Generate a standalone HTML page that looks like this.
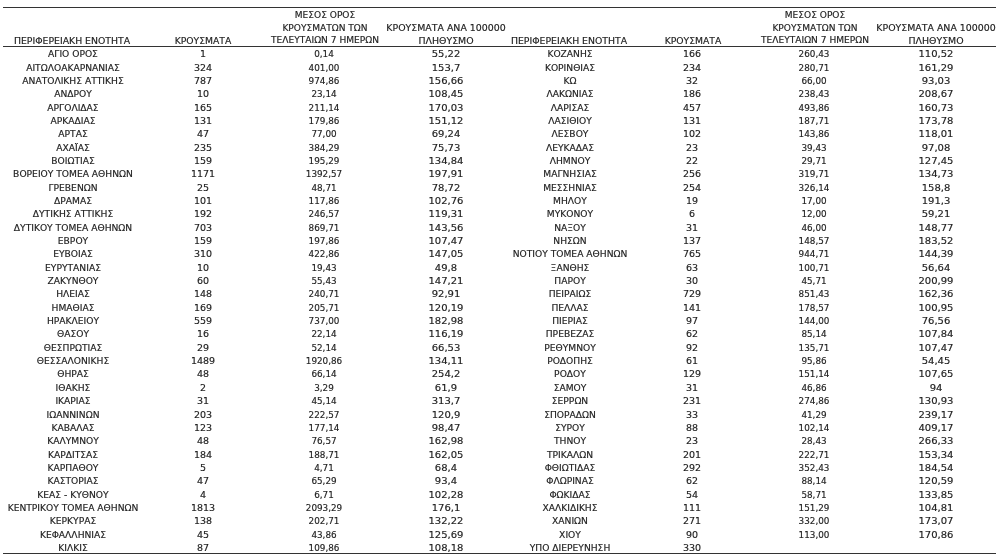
<!DOCTYPE html>
<html lang="el"><head><meta charset="utf-8"><title>Κρούσματα ανά περιφερειακή ενότητα</title>
<style>
html,body{margin:0;padding:0;background:#fff;}
body{width:1000px;height:556px;position:relative;overflow:hidden;font-family:"DejaVu Sans Condensed","DejaVu Sans","Liberation Sans",sans-serif;font-stretch:condensed;color:#222;}
#wrap{position:absolute;left:0;top:0;width:1000px;height:556px;background:#fff;}
div.n,div.c,div.a,div.p,div.hn,div.hc,div.ha,div.hp{position:absolute;width:200px;height:20px;line-height:20px;text-align:center;white-space:nowrap;}
.ln{position:absolute;left:3.2px;width:993.0px;height:1px;background:#333;}
div.n{font-size:9.5px;transform:scaleX(1.07);-webkit-text-stroke:0.15px #222;}
div.c{font-size:9.5px;transform:scaleX(1.11);-webkit-text-stroke:0.15px #222;}
div.a{font-size:9.5px;transform:scaleX(1.03);-webkit-text-stroke:0.15px #222;}
div.p{font-size:9.5px;transform:scaleX(1.17);-webkit-text-stroke:0.15px #222;}
div.hn{font-size:9.5px;transform:scaleX(1.09);-webkit-text-stroke:0.15px #222;}
div.hc{font-size:9.5px;transform:scaleX(1.08);-webkit-text-stroke:0.15px #222;}
div.ha{font-size:9.5px;transform:scaleX(1.06);-webkit-text-stroke:0.15px #222;}
div.hp{font-size:9.5px;transform:scaleX(1.1);-webkit-text-stroke:0.15px #222;}
</style></head><body><div id="wrap">
<div class="ln" style="top:7px"></div><div class="ln" style="top:46px"></div><div class="ln" style="top:553px"></div>
<div class="n" style="left:-27.40px;top:44.25px">ΑΓΙΟ ΟΡΟΣ</div>
<div class="c" style="left:102.60px;top:44.25px">1</div>
<div class="a" style="left:224.00px;top:44.25px">0,14</div>
<div class="p" style="left:346.10px;top:44.25px">55,22</div>
<div class="n" style="left:-27.40px;top:57.60px">ΑΙΤΩΛΟΑΚΑΡΝΑΝΙΑΣ</div>
<div class="c" style="left:102.60px;top:57.60px">324</div>
<div class="a" style="left:224.00px;top:57.60px">401,00</div>
<div class="p" style="left:346.10px;top:57.60px">153,7</div>
<div class="n" style="left:-27.40px;top:70.94px">ΑΝΑΤΟΛΙΚΗΣ ΑΤΤΙΚΗΣ</div>
<div class="c" style="left:102.60px;top:70.94px">787</div>
<div class="a" style="left:224.00px;top:70.94px">974,86</div>
<div class="p" style="left:346.10px;top:70.94px">156,66</div>
<div class="n" style="left:-27.40px;top:84.28px">ΑΝΔΡΟΥ</div>
<div class="c" style="left:102.60px;top:84.28px">10</div>
<div class="a" style="left:224.00px;top:84.28px">23,14</div>
<div class="p" style="left:346.10px;top:84.28px">108,45</div>
<div class="n" style="left:-27.40px;top:97.62px">ΑΡΓΟΛΙΔΑΣ</div>
<div class="c" style="left:102.60px;top:97.62px">165</div>
<div class="a" style="left:224.00px;top:97.62px">211,14</div>
<div class="p" style="left:346.10px;top:97.62px">170,03</div>
<div class="n" style="left:-27.40px;top:110.97px">ΑΡΚΑΔΙΑΣ</div>
<div class="c" style="left:102.60px;top:110.97px">131</div>
<div class="a" style="left:224.00px;top:110.97px">179,86</div>
<div class="p" style="left:346.10px;top:110.97px">151,12</div>
<div class="n" style="left:-27.40px;top:124.31px">ΑΡΤΑΣ</div>
<div class="c" style="left:102.60px;top:124.31px">47</div>
<div class="a" style="left:224.00px;top:124.31px">77,00</div>
<div class="p" style="left:346.10px;top:124.31px">69,24</div>
<div class="n" style="left:-27.40px;top:137.65px">ΑΧΑΪΑΣ</div>
<div class="c" style="left:102.60px;top:137.65px">235</div>
<div class="a" style="left:224.00px;top:137.65px">384,29</div>
<div class="p" style="left:346.10px;top:137.65px">75,73</div>
<div class="n" style="left:-27.40px;top:150.99px">ΒΟΙΩΤΙΑΣ</div>
<div class="c" style="left:102.60px;top:150.99px">159</div>
<div class="a" style="left:224.00px;top:150.99px">195,29</div>
<div class="p" style="left:346.10px;top:150.99px">134,84</div>
<div class="n" style="left:-27.40px;top:164.34px">ΒΟΡΕΙΟΥ ΤΟΜΕΑ ΑΘΗΝΩΝ</div>
<div class="c" style="left:102.60px;top:164.34px">1171</div>
<div class="a" style="left:224.00px;top:164.34px">1392,57</div>
<div class="p" style="left:346.10px;top:164.34px">197,91</div>
<div class="n" style="left:-27.40px;top:177.68px">ΓΡΕΒΕΝΩΝ</div>
<div class="c" style="left:102.60px;top:177.68px">25</div>
<div class="a" style="left:224.00px;top:177.68px">48,71</div>
<div class="p" style="left:346.10px;top:177.68px">78,72</div>
<div class="n" style="left:-27.40px;top:191.02px">ΔΡΑΜΑΣ</div>
<div class="c" style="left:102.60px;top:191.02px">101</div>
<div class="a" style="left:224.00px;top:191.02px">117,86</div>
<div class="p" style="left:346.10px;top:191.02px">102,76</div>
<div class="n" style="left:-27.40px;top:204.36px">ΔΥΤΙΚΗΣ ΑΤΤΙΚΗΣ</div>
<div class="c" style="left:102.60px;top:204.36px">192</div>
<div class="a" style="left:224.00px;top:204.36px">246,57</div>
<div class="p" style="left:346.10px;top:204.36px">119,31</div>
<div class="n" style="left:-27.40px;top:217.71px">ΔΥΤΙΚΟΥ ΤΟΜΕΑ ΑΘΗΝΩΝ</div>
<div class="c" style="left:102.60px;top:217.71px">703</div>
<div class="a" style="left:224.00px;top:217.71px">869,71</div>
<div class="p" style="left:346.10px;top:217.71px">143,56</div>
<div class="n" style="left:-27.40px;top:231.05px">ΕΒΡΟΥ</div>
<div class="c" style="left:102.60px;top:231.05px">159</div>
<div class="a" style="left:224.00px;top:231.05px">197,86</div>
<div class="p" style="left:346.10px;top:231.05px">107,47</div>
<div class="n" style="left:-27.40px;top:244.39px">ΕΥΒΟΙΑΣ</div>
<div class="c" style="left:102.60px;top:244.39px">310</div>
<div class="a" style="left:224.00px;top:244.39px">422,86</div>
<div class="p" style="left:346.10px;top:244.39px">147,05</div>
<div class="n" style="left:-27.40px;top:257.73px">ΕΥΡΥΤΑΝΙΑΣ</div>
<div class="c" style="left:102.60px;top:257.73px">10</div>
<div class="a" style="left:224.00px;top:257.73px">19,43</div>
<div class="p" style="left:346.10px;top:257.73px">49,8</div>
<div class="n" style="left:-27.40px;top:271.08px">ΖΑΚΥΝΘΟΥ</div>
<div class="c" style="left:102.60px;top:271.08px">60</div>
<div class="a" style="left:224.00px;top:271.08px">55,43</div>
<div class="p" style="left:346.10px;top:271.08px">147,21</div>
<div class="n" style="left:-27.40px;top:284.42px">ΗΛΕΙΑΣ</div>
<div class="c" style="left:102.60px;top:284.42px">148</div>
<div class="a" style="left:224.00px;top:284.42px">240,71</div>
<div class="p" style="left:346.10px;top:284.42px">92,91</div>
<div class="n" style="left:-27.40px;top:297.76px">ΗΜΑΘΙΑΣ</div>
<div class="c" style="left:102.60px;top:297.76px">169</div>
<div class="a" style="left:224.00px;top:297.76px">205,71</div>
<div class="p" style="left:346.10px;top:297.76px">120,19</div>
<div class="n" style="left:-27.40px;top:311.10px">ΗΡΑΚΛΕΙΟΥ</div>
<div class="c" style="left:102.60px;top:311.10px">559</div>
<div class="a" style="left:224.00px;top:311.10px">737,00</div>
<div class="p" style="left:346.10px;top:311.10px">182,98</div>
<div class="n" style="left:-27.40px;top:324.45px">ΘΑΣΟΥ</div>
<div class="c" style="left:102.60px;top:324.45px">16</div>
<div class="a" style="left:224.00px;top:324.45px">22,14</div>
<div class="p" style="left:346.10px;top:324.45px">116,19</div>
<div class="n" style="left:-27.40px;top:337.79px">ΘΕΣΠΡΩΤΙΑΣ</div>
<div class="c" style="left:102.60px;top:337.79px">29</div>
<div class="a" style="left:224.00px;top:337.79px">52,14</div>
<div class="p" style="left:346.10px;top:337.79px">66,53</div>
<div class="n" style="left:-27.40px;top:351.13px">ΘΕΣΣΑΛΟΝΙΚΗΣ</div>
<div class="c" style="left:102.60px;top:351.13px">1489</div>
<div class="a" style="left:224.00px;top:351.13px">1920,86</div>
<div class="p" style="left:346.10px;top:351.13px">134,11</div>
<div class="n" style="left:-27.40px;top:364.47px">ΘΗΡΑΣ</div>
<div class="c" style="left:102.60px;top:364.47px">48</div>
<div class="a" style="left:224.00px;top:364.47px">66,14</div>
<div class="p" style="left:346.10px;top:364.47px">254,2</div>
<div class="n" style="left:-27.40px;top:377.82px">ΙΘΑΚΗΣ</div>
<div class="c" style="left:102.60px;top:377.82px">2</div>
<div class="a" style="left:224.00px;top:377.82px">3,29</div>
<div class="p" style="left:346.10px;top:377.82px">61,9</div>
<div class="n" style="left:-27.40px;top:391.16px">ΙΚΑΡΙΑΣ</div>
<div class="c" style="left:102.60px;top:391.16px">31</div>
<div class="a" style="left:224.00px;top:391.16px">45,14</div>
<div class="p" style="left:346.10px;top:391.16px">313,7</div>
<div class="n" style="left:-27.40px;top:404.50px">ΙΩΑΝΝΙΝΩΝ</div>
<div class="c" style="left:102.60px;top:404.50px">203</div>
<div class="a" style="left:224.00px;top:404.50px">222,57</div>
<div class="p" style="left:346.10px;top:404.50px">120,9</div>
<div class="n" style="left:-27.40px;top:417.84px">ΚΑΒΑΛΑΣ</div>
<div class="c" style="left:102.60px;top:417.84px">123</div>
<div class="a" style="left:224.00px;top:417.84px">177,14</div>
<div class="p" style="left:346.10px;top:417.84px">98,47</div>
<div class="n" style="left:-27.40px;top:431.19px">ΚΑΛΥΜΝΟΥ</div>
<div class="c" style="left:102.60px;top:431.19px">48</div>
<div class="a" style="left:224.00px;top:431.19px">76,57</div>
<div class="p" style="left:346.10px;top:431.19px">162,98</div>
<div class="n" style="left:-27.40px;top:444.53px">ΚΑΡΔΙΤΣΑΣ</div>
<div class="c" style="left:102.60px;top:444.53px">184</div>
<div class="a" style="left:224.00px;top:444.53px">188,71</div>
<div class="p" style="left:346.10px;top:444.53px">162,05</div>
<div class="n" style="left:-27.40px;top:457.87px">ΚΑΡΠΑΘΟΥ</div>
<div class="c" style="left:102.60px;top:457.87px">5</div>
<div class="a" style="left:224.00px;top:457.87px">4,71</div>
<div class="p" style="left:346.10px;top:457.87px">68,4</div>
<div class="n" style="left:-27.40px;top:471.21px">ΚΑΣΤΟΡΙΑΣ</div>
<div class="c" style="left:102.60px;top:471.21px">47</div>
<div class="a" style="left:224.00px;top:471.21px">65,29</div>
<div class="p" style="left:346.10px;top:471.21px">93,4</div>
<div class="n" style="left:-27.40px;top:484.56px">ΚΕΑΣ - ΚΥΘΝΟΥ</div>
<div class="c" style="left:102.60px;top:484.56px">4</div>
<div class="a" style="left:224.00px;top:484.56px">6,71</div>
<div class="p" style="left:346.10px;top:484.56px">102,28</div>
<div class="n" style="left:-27.40px;top:497.90px">ΚΕΝΤΡΙΚΟΥ ΤΟΜΕΑ ΑΘΗΝΩΝ</div>
<div class="c" style="left:102.60px;top:497.90px">1813</div>
<div class="a" style="left:224.00px;top:497.90px">2093,29</div>
<div class="p" style="left:346.10px;top:497.90px">176,1</div>
<div class="n" style="left:-27.40px;top:511.24px">ΚΕΡΚΥΡΑΣ</div>
<div class="c" style="left:102.60px;top:511.24px">138</div>
<div class="a" style="left:224.00px;top:511.24px">202,71</div>
<div class="p" style="left:346.10px;top:511.24px">132,22</div>
<div class="n" style="left:-27.40px;top:524.58px">ΚΕΦΑΛΛΗΝΙΑΣ</div>
<div class="c" style="left:102.60px;top:524.58px">45</div>
<div class="a" style="left:224.00px;top:524.58px">43,86</div>
<div class="p" style="left:346.10px;top:524.58px">125,69</div>
<div class="n" style="left:-27.40px;top:537.93px">ΚΙΛΚΙΣ</div>
<div class="c" style="left:102.60px;top:537.93px">87</div>
<div class="a" style="left:224.00px;top:537.93px">109,86</div>
<div class="p" style="left:346.10px;top:537.93px">108,18</div>
<div class="hn" style="left:-27.80px;top:30.71px">ΠΕΡΙΦΕΡΕΙΑΚΗ ΕΝΟΤΗΤΑ</div>
<div class="hc" style="left:102.60px;top:30.71px">ΚΡΟΥΣΜΑΤΑ</div>
<div class="ha" style="left:224.70px;top:4.76px">ΜΕΣΟΣ ΟΡΟΣ</div>
<div class="ha" style="left:224.70px;top:17.96px">ΚΡΟΥΣΜΑΤΩΝ ΤΩΝ</div>
<div class="ha" style="left:224.70px;top:29.91px">ΤΕΛΕΥΤΑΙΩΝ 7 ΗΜΕΡΩΝ</div>
<div class="hp" style="left:346.10px;top:18.21px">ΚΡΟΥΣΜΑΤΑ ΑΝΑ 100000</div>
<div class="hp" style="left:346.10px;top:30.71px">ΠΛΗΘΥΣΜΟ</div>
<div class="n" style="left:469.90px;top:44.25px">ΚΟΖΑΝΗΣ</div>
<div class="c" style="left:592.20px;top:44.25px">166</div>
<div class="a" style="left:713.80px;top:44.25px">260,43</div>
<div class="p" style="left:835.70px;top:44.25px">110,52</div>
<div class="n" style="left:469.90px;top:57.60px">ΚΟΡΙΝΘΙΑΣ</div>
<div class="c" style="left:592.20px;top:57.60px">234</div>
<div class="a" style="left:713.80px;top:57.60px">280,71</div>
<div class="p" style="left:835.70px;top:57.60px">161,29</div>
<div class="n" style="left:469.90px;top:70.94px">ΚΩ</div>
<div class="c" style="left:592.20px;top:70.94px">32</div>
<div class="a" style="left:713.80px;top:70.94px">66,00</div>
<div class="p" style="left:835.70px;top:70.94px">93,03</div>
<div class="n" style="left:469.90px;top:84.28px">ΛΑΚΩΝΙΑΣ</div>
<div class="c" style="left:592.20px;top:84.28px">186</div>
<div class="a" style="left:713.80px;top:84.28px">238,43</div>
<div class="p" style="left:835.70px;top:84.28px">208,67</div>
<div class="n" style="left:469.90px;top:97.62px">ΛΑΡΙΣΑΣ</div>
<div class="c" style="left:592.20px;top:97.62px">457</div>
<div class="a" style="left:713.80px;top:97.62px">493,86</div>
<div class="p" style="left:835.70px;top:97.62px">160,73</div>
<div class="n" style="left:469.90px;top:110.97px">ΛΑΣΙΘΙΟΥ</div>
<div class="c" style="left:592.20px;top:110.97px">131</div>
<div class="a" style="left:713.80px;top:110.97px">187,71</div>
<div class="p" style="left:835.70px;top:110.97px">173,78</div>
<div class="n" style="left:469.90px;top:124.31px">ΛΕΣΒΟΥ</div>
<div class="c" style="left:592.20px;top:124.31px">102</div>
<div class="a" style="left:713.80px;top:124.31px">143,86</div>
<div class="p" style="left:835.70px;top:124.31px">118,01</div>
<div class="n" style="left:469.90px;top:137.65px">ΛΕΥΚΑΔΑΣ</div>
<div class="c" style="left:592.20px;top:137.65px">23</div>
<div class="a" style="left:713.80px;top:137.65px">39,43</div>
<div class="p" style="left:835.70px;top:137.65px">97,08</div>
<div class="n" style="left:469.90px;top:150.99px">ΛΗΜΝΟΥ</div>
<div class="c" style="left:592.20px;top:150.99px">22</div>
<div class="a" style="left:713.80px;top:150.99px">29,71</div>
<div class="p" style="left:835.70px;top:150.99px">127,45</div>
<div class="n" style="left:469.90px;top:164.34px">ΜΑΓΝΗΣΙΑΣ</div>
<div class="c" style="left:592.20px;top:164.34px">256</div>
<div class="a" style="left:713.80px;top:164.34px">319,71</div>
<div class="p" style="left:835.70px;top:164.34px">134,73</div>
<div class="n" style="left:469.90px;top:177.68px">ΜΕΣΣΗΝΙΑΣ</div>
<div class="c" style="left:592.20px;top:177.68px">254</div>
<div class="a" style="left:713.80px;top:177.68px">326,14</div>
<div class="p" style="left:835.70px;top:177.68px">158,8</div>
<div class="n" style="left:469.90px;top:191.02px">ΜΗΛΟΥ</div>
<div class="c" style="left:592.20px;top:191.02px">19</div>
<div class="a" style="left:713.80px;top:191.02px">17,00</div>
<div class="p" style="left:835.70px;top:191.02px">191,3</div>
<div class="n" style="left:469.90px;top:204.36px">ΜΥΚΟΝΟΥ</div>
<div class="c" style="left:592.20px;top:204.36px">6</div>
<div class="a" style="left:713.80px;top:204.36px">12,00</div>
<div class="p" style="left:835.70px;top:204.36px">59,21</div>
<div class="n" style="left:469.90px;top:217.71px">ΝΑΞΟΥ</div>
<div class="c" style="left:592.20px;top:217.71px">31</div>
<div class="a" style="left:713.80px;top:217.71px">46,00</div>
<div class="p" style="left:835.70px;top:217.71px">148,77</div>
<div class="n" style="left:469.90px;top:231.05px">ΝΗΣΩΝ</div>
<div class="c" style="left:592.20px;top:231.05px">137</div>
<div class="a" style="left:713.80px;top:231.05px">148,57</div>
<div class="p" style="left:835.70px;top:231.05px">183,52</div>
<div class="n" style="left:469.90px;top:244.39px">ΝΟΤΙΟΥ ΤΟΜΕΑ ΑΘΗΝΩΝ</div>
<div class="c" style="left:592.20px;top:244.39px">765</div>
<div class="a" style="left:713.80px;top:244.39px">944,71</div>
<div class="p" style="left:835.70px;top:244.39px">144,39</div>
<div class="n" style="left:469.90px;top:257.73px">ΞΑΝΘΗΣ</div>
<div class="c" style="left:592.20px;top:257.73px">63</div>
<div class="a" style="left:713.80px;top:257.73px">100,71</div>
<div class="p" style="left:835.70px;top:257.73px">56,64</div>
<div class="n" style="left:469.90px;top:271.08px">ΠΑΡΟΥ</div>
<div class="c" style="left:592.20px;top:271.08px">30</div>
<div class="a" style="left:713.80px;top:271.08px">45,71</div>
<div class="p" style="left:835.70px;top:271.08px">200,99</div>
<div class="n" style="left:469.90px;top:284.42px">ΠΕΙΡΑΙΩΣ</div>
<div class="c" style="left:592.20px;top:284.42px">729</div>
<div class="a" style="left:713.80px;top:284.42px">851,43</div>
<div class="p" style="left:835.70px;top:284.42px">162,36</div>
<div class="n" style="left:469.90px;top:297.76px">ΠΕΛΛΑΣ</div>
<div class="c" style="left:592.20px;top:297.76px">141</div>
<div class="a" style="left:713.80px;top:297.76px">178,57</div>
<div class="p" style="left:835.70px;top:297.76px">100,95</div>
<div class="n" style="left:469.90px;top:311.10px">ΠΙΕΡΙΑΣ</div>
<div class="c" style="left:592.20px;top:311.10px">97</div>
<div class="a" style="left:713.80px;top:311.10px">144,00</div>
<div class="p" style="left:835.70px;top:311.10px">76,56</div>
<div class="n" style="left:469.90px;top:324.45px">ΠΡΕΒΕΖΑΣ</div>
<div class="c" style="left:592.20px;top:324.45px">62</div>
<div class="a" style="left:713.80px;top:324.45px">85,14</div>
<div class="p" style="left:835.70px;top:324.45px">107,84</div>
<div class="n" style="left:469.90px;top:337.79px">ΡΕΘΥΜΝΟΥ</div>
<div class="c" style="left:592.20px;top:337.79px">92</div>
<div class="a" style="left:713.80px;top:337.79px">135,71</div>
<div class="p" style="left:835.70px;top:337.79px">107,47</div>
<div class="n" style="left:469.90px;top:351.13px">ΡΟΔΟΠΗΣ</div>
<div class="c" style="left:592.20px;top:351.13px">61</div>
<div class="a" style="left:713.80px;top:351.13px">95,86</div>
<div class="p" style="left:835.70px;top:351.13px">54,45</div>
<div class="n" style="left:469.90px;top:364.47px">ΡΟΔΟΥ</div>
<div class="c" style="left:592.20px;top:364.47px">129</div>
<div class="a" style="left:713.80px;top:364.47px">151,14</div>
<div class="p" style="left:835.70px;top:364.47px">107,65</div>
<div class="n" style="left:469.90px;top:377.82px">ΣΑΜΟΥ</div>
<div class="c" style="left:592.20px;top:377.82px">31</div>
<div class="a" style="left:713.80px;top:377.82px">46,86</div>
<div class="p" style="left:835.70px;top:377.82px">94</div>
<div class="n" style="left:469.90px;top:391.16px">ΣΕΡΡΩΝ</div>
<div class="c" style="left:592.20px;top:391.16px">231</div>
<div class="a" style="left:713.80px;top:391.16px">274,86</div>
<div class="p" style="left:835.70px;top:391.16px">130,93</div>
<div class="n" style="left:469.90px;top:404.50px">ΣΠΟΡΑΔΩΝ</div>
<div class="c" style="left:592.20px;top:404.50px">33</div>
<div class="a" style="left:713.80px;top:404.50px">41,29</div>
<div class="p" style="left:835.70px;top:404.50px">239,17</div>
<div class="n" style="left:469.90px;top:417.84px">ΣΥΡΟΥ</div>
<div class="c" style="left:592.20px;top:417.84px">88</div>
<div class="a" style="left:713.80px;top:417.84px">102,14</div>
<div class="p" style="left:835.70px;top:417.84px">409,17</div>
<div class="n" style="left:469.90px;top:431.19px">ΤΗΝΟΥ</div>
<div class="c" style="left:592.20px;top:431.19px">23</div>
<div class="a" style="left:713.80px;top:431.19px">28,43</div>
<div class="p" style="left:835.70px;top:431.19px">266,33</div>
<div class="n" style="left:469.90px;top:444.53px">ΤΡΙΚΑΛΩΝ</div>
<div class="c" style="left:592.20px;top:444.53px">201</div>
<div class="a" style="left:713.80px;top:444.53px">222,71</div>
<div class="p" style="left:835.70px;top:444.53px">153,34</div>
<div class="n" style="left:469.90px;top:457.87px">ΦΘΙΩΤΙΔΑΣ</div>
<div class="c" style="left:592.20px;top:457.87px">292</div>
<div class="a" style="left:713.80px;top:457.87px">352,43</div>
<div class="p" style="left:835.70px;top:457.87px">184,54</div>
<div class="n" style="left:469.90px;top:471.21px">ΦΛΩΡΙΝΑΣ</div>
<div class="c" style="left:592.20px;top:471.21px">62</div>
<div class="a" style="left:713.80px;top:471.21px">88,14</div>
<div class="p" style="left:835.70px;top:471.21px">120,59</div>
<div class="n" style="left:469.90px;top:484.56px">ΦΩΚΙΔΑΣ</div>
<div class="c" style="left:592.20px;top:484.56px">54</div>
<div class="a" style="left:713.80px;top:484.56px">58,71</div>
<div class="p" style="left:835.70px;top:484.56px">133,85</div>
<div class="n" style="left:469.90px;top:497.90px">ΧΑΛΚΙΔΙΚΗΣ</div>
<div class="c" style="left:592.20px;top:497.90px">111</div>
<div class="a" style="left:713.80px;top:497.90px">151,29</div>
<div class="p" style="left:835.70px;top:497.90px">104,81</div>
<div class="n" style="left:469.90px;top:511.24px">ΧΑΝΙΩΝ</div>
<div class="c" style="left:592.20px;top:511.24px">271</div>
<div class="a" style="left:713.80px;top:511.24px">332,00</div>
<div class="p" style="left:835.70px;top:511.24px">173,07</div>
<div class="n" style="left:469.90px;top:524.58px">ΧΙΟΥ</div>
<div class="c" style="left:592.20px;top:524.58px">90</div>
<div class="a" style="left:713.80px;top:524.58px">113,00</div>
<div class="p" style="left:835.70px;top:524.58px">170,86</div>
<div class="n" style="left:469.90px;top:537.93px">ΥΠΟ ΔΙΕΡΕΥΝΗΣΗ</div>
<div class="c" style="left:592.20px;top:537.93px">330</div>
<div class="hn" style="left:469.20px;top:30.71px">ΠΕΡΙΦΕΡΕΙΑΚΗ ΕΝΟΤΗΤΑ</div>
<div class="hc" style="left:592.80px;top:30.71px">ΚΡΟΥΣΜΑΤΑ</div>
<div class="ha" style="left:714.50px;top:4.76px">ΜΕΣΟΣ ΟΡΟΣ</div>
<div class="ha" style="left:714.50px;top:17.96px">ΚΡΟΥΣΜΑΤΩΝ ΤΩΝ</div>
<div class="ha" style="left:714.50px;top:29.91px">ΤΕΛΕΥΤΑΙΩΝ 7 ΗΜΕΡΩΝ</div>
<div class="hp" style="left:835.70px;top:18.21px">ΚΡΟΥΣΜΑΤΑ ΑΝΑ 100000</div>
<div class="hp" style="left:835.70px;top:30.71px">ΠΛΗΘΥΣΜΟ</div>
</div></body></html>
